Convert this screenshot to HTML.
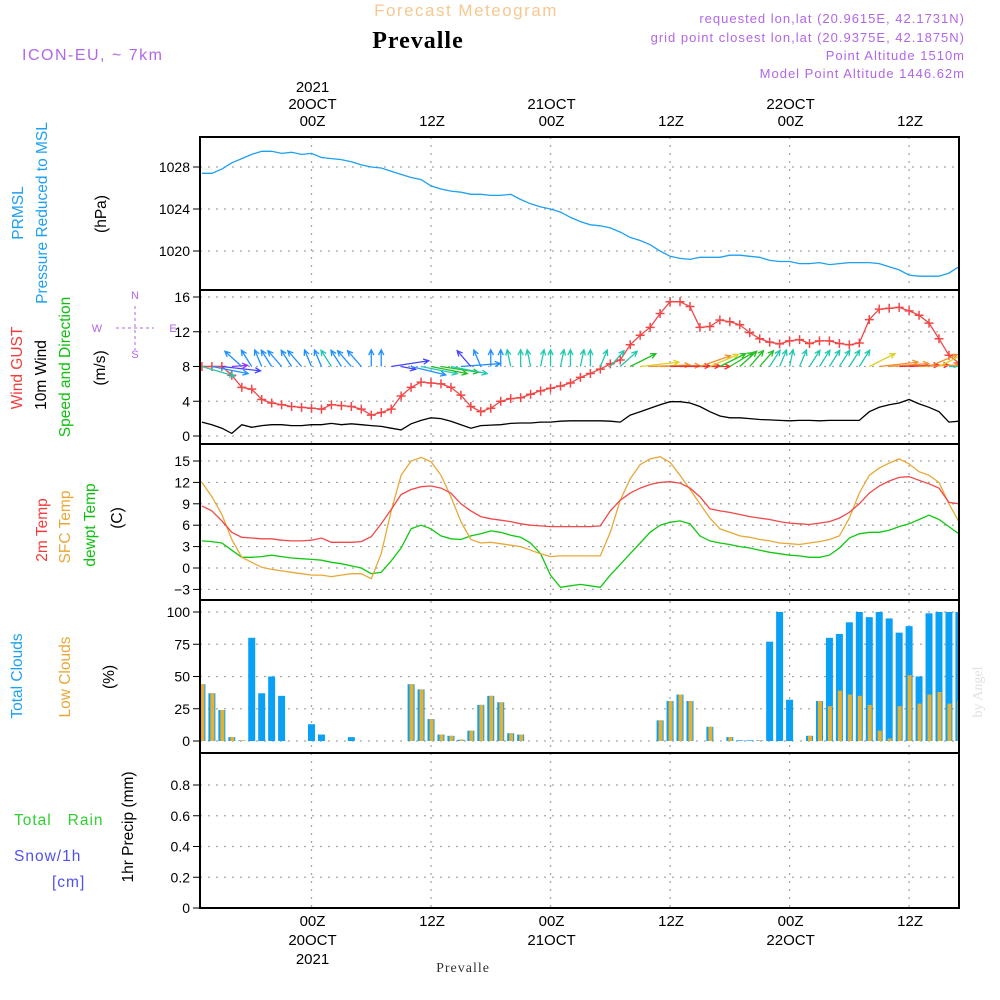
<!DOCTYPE html>
<html><head><meta charset="utf-8"><title>Forecast Meteogram Prevalle</title>
<style>
html,body{margin:0;padding:0;background:#fff;}
svg{display:block;font-family:"Liberation Sans",sans-serif;}
</style></head>
<body>
<svg id="chart" width="1000" height="1000" viewBox="0 0 1000 1000">
  <g>
    <text x="466" y="16" text-anchor="middle" font-size="17" fill="#f5c890" letter-spacing="1.5">Forecast Meteogram</text>
    <text x="418" y="48" text-anchor="middle" font-size="24" font-weight="bold" font-family="Liberation Serif,serif" fill="#000" letter-spacing="1">Prevalle</text>
    <text x="22" y="60" font-size="16" fill="#b266e8" letter-spacing="1.5">ICON-EU, ~ 7km</text>
    <g font-size="13" fill="#b266e8" text-anchor="end" letter-spacing="1">
      <text x="965" y="23">requested lon,lat (20.9615E, 42.1731N)</text>
      <text x="965" y="42">grid point closest lon,lat (20.9375E, 42.1875N)</text>
      <text x="965" y="60">Point Altitude 1510m</text>
      <text x="965" y="78">Model Point Altitude 1446.62m</text>
    </g>
  </g>
  <g id="grid"></g>
  <g id="series"></g>
  <g id="frame"></g>
  <g id="axes" font-size="14"></g>
  <g font-size="15.5">
    <text transform="translate(23,213) rotate(-90)" text-anchor="middle" fill="#1ea0f0">PRMSL</text>
    <text transform="translate(47,213) rotate(-90)" text-anchor="middle" fill="#1ea0f0">Pressure Reduced to MSL</text>
    <text transform="translate(106,214) rotate(-90)" text-anchor="middle" fill="#000">(hPa)</text>
    <text transform="translate(22,368) rotate(-90)" text-anchor="middle" fill="#f03c3c">Wind GUST</text>
    <text transform="translate(46,375) rotate(-90)" text-anchor="middle" fill="#000">10m Wind</text>
    <text transform="translate(70,367) rotate(-90)" text-anchor="middle" fill="#10c010">Speed and Direction</text>
    <text transform="translate(105,368) rotate(-90)" text-anchor="middle" fill="#000">(m/s)</text>
    <text transform="translate(47,530) rotate(-90)" text-anchor="middle" fill="#f03c3c">2m Temp</text>
    <text transform="translate(70,527) rotate(-90)" text-anchor="middle" fill="#e8a838">SFC Temp</text>
    <text transform="translate(95,525) rotate(-90)" text-anchor="middle" fill="#10c010">dewpt Temp</text>
    <text transform="translate(122,518) rotate(-90)" text-anchor="middle" fill="#000">(C)</text>
    <text transform="translate(22,676) rotate(-90)" text-anchor="middle" fill="#1ea0f0">Total Clouds</text>
    <text transform="translate(70,677) rotate(-90)" text-anchor="middle" fill="#e8a838">Low Clouds</text>
    <text transform="translate(114,677) rotate(-90)" text-anchor="middle" fill="#000">(%)</text>
    <text transform="translate(133,827) rotate(-90)" text-anchor="middle" fill="#000">1hr Precip (mm)</text>
    <text x="14" y="825" fill="#30d030" letter-spacing="1">Total&#160;&#160;&#160;Rain</text>
    <text x="14" y="861" fill="#5050f0" letter-spacing="1">Snow/1h</text>
    <text x="52" y="887" fill="#5050f0" letter-spacing="1">[cm]</text>
  </g>
  <g font-size="11" fill="#b266e8">
    <text x="135" y="299" text-anchor="middle">N</text>
    <text x="135" y="358" text-anchor="middle">S</text>
    <text x="97" y="332" text-anchor="middle">W</text>
    <text x="173" y="332" text-anchor="middle">E</text>
    <line x1="116" y1="328" x2="154" y2="328" stroke="#b266e8" stroke-dasharray="3,3"/>
    <line x1="135" y1="306" x2="135" y2="350" stroke="#b266e8" stroke-dasharray="3,3"/>
  </g>
  <text transform="translate(982,692) rotate(-90)" text-anchor="middle" font-size="14" font-family="Liberation Serif,serif" fill="#dde3dd">by Angel</text>
  <text x="463" y="972" text-anchor="middle" font-size="14" font-family="Liberation Serif,serif" fill="#333" letter-spacing="1">Prevalle</text>
</svg>
<script>
// ---------- data (hourly from 13Z 19OCT) ----------
const startHour = -11;
const pressure = [1027.4,1027.4,1027.8,1028.4,1028.8,1029.2,1029.5,1029.5,1029.3,1029.4,1029.2,1029.3,1028.9,1028.8,1028.7,1028.5,1028.2,1028.0,1027.9,1027.6,1027.3,1027.0,1026.8,1026.2,1025.9,1025.7,1025.6,1025.4,1025.4,1025.3,1025.3,1025.4,1024.9,1024.5,1024.2,1024.0,1023.7,1023.2,1022.8,1022.5,1022.4,1022.2,1021.8,1021.3,1021.0,1020.6,1020.0,1019.5,1019.3,1019.2,1019.4,1019.4,1019.4,1019.6,1019.6,1019.5,1019.4,1019.1,1019.0,1019.0,1018.8,1018.8,1018.9,1018.7,1018.8,1018.9,1018.9,1018.9,1018.8,1018.5,1018.2,1017.7,1017.6,1017.6,1017.6,1017.9,1018.5];
const gust = [8.0,8.0,8.0,7.0,5.6,5.4,4.2,3.8,3.6,3.4,3.3,3.2,3.1,3.6,3.5,3.4,3.1,2.4,2.7,3.1,4.6,5.6,6.2,6.1,6.0,5.6,4.7,3.4,2.8,3.2,4.0,4.3,4.4,4.8,5.2,5.5,5.75,6.1,6.75,7.2,7.7,8.3,8.75,10.5,11.6,12.5,14.1,15.45,15.45,14.9,12.5,12.6,13.35,13.15,12.8,11.9,11.2,10.8,10.6,10.95,11.1,10.65,10.95,10.95,10.65,10.5,10.7,13.4,14.6,14.7,14.8,14.4,13.9,13.0,11.2,9.3,8.4];
const windSpeed = [1.6,1.3,0.9,0.3,1.3,1.0,1.2,1.3,1.3,1.2,1.2,1.3,1.3,1.45,1.3,1.4,1.3,1.2,1.1,0.9,0.7,1.4,1.8,2.1,2.0,1.7,1.3,0.9,1.2,1.25,1.3,1.45,1.5,1.5,1.6,1.6,1.7,1.75,1.75,1.75,1.75,1.7,1.6,2.4,2.8,3.2,3.6,3.95,3.95,3.8,3.4,2.8,2.3,2.1,2.1,2.0,1.9,1.85,1.8,1.75,1.8,1.8,1.75,1.8,1.8,1.8,1.8,2.8,3.3,3.6,3.8,4.2,3.7,3.3,2.8,1.6,1.7];
const windToDir = [-35,-25,-15,10,115,105,100,105,110,105,110,100,100,105,105,110,110,90,90,20,-25,-30,-25,-25,-20,-25,10,110,100,90,90,95,90,95,85,90,85,90,85,90,80,70,65,50,15,5,3,2,2,0,40,45,50,55,65,70,70,75,80,85,80,75,75,75,75,75,75,50,15,10,5,5,5,45,50,0,0];
const temp2m = [8.7,8.0,6.6,5.0,4.3,4.2,4.1,4.1,3.9,3.8,3.8,3.9,4.2,3.6,3.6,3.6,3.7,4.4,6.2,8.2,10.3,11.0,11.4,11.5,11.2,10.5,9.0,8.0,7.2,6.9,6.7,6.5,6.2,6.0,5.9,5.8,5.8,5.8,5.8,5.8,5.9,8.0,9.5,10.5,11.2,11.7,12.0,12.1,11.9,11.2,10.0,8.3,8.0,7.8,7.5,7.2,7.0,6.8,6.5,6.3,6.2,6.1,6.3,6.5,7.0,7.8,9.0,10.5,11.5,12.2,12.7,12.8,12.3,11.8,11.2,9.2,9.0];
const tempSfc = [12.0,10.0,7.5,4.0,1.5,0.8,0.1,-0.2,-0.4,-0.6,-0.8,-1.0,-1.0,-1.2,-1.0,-0.8,-0.8,-1.5,2.0,8.0,13.0,15.0,15.5,14.9,13.0,10.0,6.5,4.0,3.5,3.6,3.4,3.2,3.0,2.5,2.0,1.6,1.7,1.7,1.7,1.7,1.7,5.0,9.5,12.5,14.5,15.3,15.6,14.8,13.0,11.0,9.0,7.0,5.5,5.0,4.5,4.3,4.0,3.8,3.5,3.4,3.3,3.5,3.7,4.0,4.5,7.0,10.5,13.0,14.0,14.7,15.3,14.6,13.5,13.0,12.0,9.0,6.5];
const dewpoint = [3.8,3.7,3.5,2.5,1.5,1.5,1.6,1.8,1.6,1.4,1.3,1.2,1.1,0.8,0.6,0.3,0,-0.8,-0.6,1.0,2.8,5.5,6.0,5.5,4.5,4.1,4.0,4.5,4.8,5.2,5.0,4.6,4.3,3.5,2.0,-1.0,-2.7,-2.5,-2.3,-2.5,-2.7,-1.0,0.5,2.0,3.5,5.0,6.0,6.4,6.6,6.2,4.5,3.8,3.5,3.3,3.0,2.8,2.5,2.2,2.0,1.8,1.7,1.5,1.5,1.8,2.8,4.2,4.8,5.0,5.0,5.3,5.8,6.2,6.8,7.4,6.8,5.8,4.8];
const totalClouds = [44,37,24,3,0.5,80,37,50,35,0,0,13,5,0,0,3,0,0,0,0,0,44,40,17,5,4,1,8,28,35,30,6,5,0,0,0,0,0,0,0,0,0,0,0,0,0,16,31,36,31,0,11,0,3,0.5,0.5,0.5,77,100,32,0,4,31,80,83,92,100,96,100,95,84,89,50,99,100,100,100];
const lowClouds = [44,37,24,3,0.5,0,0,0,0,0,0,0,0,0,0,0,0,0,0,0,0,44,40,17,5,4,1,8,28,35,30,6,5,0,0,0,0,0,0,0,0,0,0,0,0,0,16,31,36,31,0,11,0,3,0,0,0.5,0,0,0,0,4,31,27,39,36,35,28,8,2,27,51,29,36,38,29,31];
const precip = [];
const pressureTicks = [1020,1024,1028];
const windTicks = [0,4,8,12,16];
const tempTicks = [-3,0,3,6,9,12,15];
const cloudTicks = [0,25,50,75,100];
const precipTicks = [0,0.2,0.4,0.6,0.8];
const timeTickHours = [0,12,24,36,48,60];
const timeTickTop = [["2021","20OCT","00Z"],["","","12Z"],["","21OCT","00Z"],["","","12Z"],["","22OCT","00Z"],["","","12Z"]];
const timeTickBottom = [["00Z","20OCT","2021"],["12Z","",""],["00Z","21OCT",""],["12Z","",""],["00Z","22OCT",""],["12Z","",""]];

// ---------- scales ----------
const X0 = 200, X1 = 959;
function xs(h){ return 311.5 + 9.96*h; }
function hourOf(i){ return startHour + i; }
function lin(v0,y0,v1,y1){ return v => y0 + (v - v0)*(y1 - y0)/(v1 - v0); }
const yP = lin(1020,251,1028,167);
const yW = lin(0,436,16,297);
const yT = lin(0,568,15,461);
const yC = lin(0,741,100,612);
const yR = lin(0,908,0.8,785);
const panels = [[137,290],[290,444],[444,600],[600,753],[753,908]];

const NS = "http://www.w3.org/2000/svg";
function mk(tag, attrs, parent){ const e = document.createElementNS(NS, tag); for (const k in attrs) e.setAttribute(k, attrs[k]); parent.appendChild(e); return e; }
const grid = document.getElementById('grid');
const series = document.getElementById('series');
const frame = document.getElementById('frame');
const axes = document.getElementById('axes');

timeTickHours.forEach(h => {
  const l = mk('line', {x1:xs(h), x2:xs(h), y1:137, y2:908, stroke:'#a8a8a8', 'stroke-dasharray':'2,6', 'stroke-width':1.3}, grid);
  
  
});
function hgrid(ticks, sc, labelFmt){
  ticks.forEach(v => {
    const y = sc(v);
    const l = mk('line', {x1:X0, x2:X1, y1:y, y2:y, stroke:'#a8a8a8', 'stroke-dasharray':'2,6', 'stroke-width':1.3}, grid);
    
    
    const t = mk('line', {x1:193, x2:X0, y1:y, y2:y, stroke:'#000', 'stroke-width':1}, axes);
    
    
    const tx = mk('text', {x:190, y:y+5, 'text-anchor':'end', fill:'#000'}, axes);
    tx.textContent = labelFmt(v);
    
    
  });
}
hgrid(pressureTicks, yP, v => String(v));
hgrid(windTicks, yW, v => String(v));
hgrid(tempTicks, yT, v => v < 0 ? '\u2212' + Math.abs(v) : String(v));
hgrid(cloudTicks, yC, v => String(v));
hgrid(precipTicks, yR, v => v === 0 ? '0' : v.toFixed(1));

timeTickHours.forEach((h, i) => {
  [0,1,2].forEach(j => {
    const s = timeTickTop[i][j];
    if (s) {
      const t = mk('text', {x:xs(h)+1, y:92 + j*17, 'text-anchor':'middle', fill:'#000', 'font-size':15}, axes);
      t.textContent = s;
      
      
    }
    const b = timeTickBottom[i][j];
    if (b) {
      const t = mk('text', {x:xs(h)+1, y:926 + j*19, 'text-anchor':'middle', fill:'#000', 'font-size':15}, axes);
      t.textContent = b;
      
      
    }
  });
});

const defs = mk('defs', {}, series);
const cp = mk('clipPath', {id:'plotclip'}, defs);
mk('rect', {x:X0, y:137, width:X1-X0, height:771}, cp);
const sg = mk('g', {'clip-path':'url(#plotclip)'}, series);



function pathOf(arr, sc){ return arr.map((v,i) => (i?'L':'M') + xs(hourOf(i)).toFixed(1) + ',' + sc(v).toFixed(1)).join(' '); }
function line(arr, sc, color, name){
  const p = mk('path', {d:pathOf(arr, sc), fill:'none', stroke:color, 'stroke-width':1.3}, sg);
  
  
}

line(pressure, yP, '#1ea0f0', 'pressure-line');
line(windSpeed, yW, '#000', 'wind-speed-line');
line(gust, yW, '#f04848', 'gust-line');
gust.forEach((v,i) => {
  const x = xs(hourOf(i)), y = yW(v);
  const g = mk('path', {d:`M${x-4.5},${y}H${x+4.5}M${x},${y-4.5}V${y+4.5}`, stroke:'#f04848', 'stroke-width':1.5}, sg);
  
  
});
function speedColor(s){
  if (s < 0.5) return '#9933ff';
  if (s < 1.0) return '#4444ff';
  if (s < 1.45) return '#1e90ff';
  if (s < 1.9) return '#20c8b0';
  if (s < 2.6) return '#20c020';
  if (s < 3.2) return '#e0d020';
  if (s < 3.8) return '#f09030';
  return '#f03030';
}
windToDir.forEach((d,i) => {
  const x = xs(hourOf(i)), y = yW(8);
  const s = windSpeed[i];
  const L = s < 0.8 ? 16 : 40;
  const a = d*Math.PI/180;
  const dx = L*Math.cos(a), dy = -L*Math.sin(a)*0.42;
  const ex = x+dx, ey = y+dy;
  const ang = Math.atan2(dy, dx);
  const h = 6;
  const ax1 = ex - h*Math.cos(ang - 0.45), ay1 = ey - h*Math.sin(ang - 0.45);
  const ax2 = ex - h*Math.cos(ang + 0.45), ay2 = ey - h*Math.sin(ang + 0.45);
  const c = speedColor(s);
  const ar = mk('path', {d:`M${x},${y}L${ex},${ey}M${ax1},${ay1}L${ex},${ey}L${ax2},${ay2}`, stroke:c, 'stroke-width':1.3, fill:'none'}, sg);
  
  
});
line(dewpoint, yT, '#10c810', 'dewpoint-line');
line(tempSfc, yT, '#e8a838', 'sfc-temp-line');
line(temp2m, yT, '#f04848', 'temp-2m-line');
totalClouds.forEach((v,i) => {
  const x = xs(hourOf(i));
  if (v > 0) {
    const r = mk('rect', {x:x-3.5, y:yC(v), width:7, height:yC(0)-yC(v), fill:'#0aa0f5'}, sg);
    
    
  }
  const lv = lowClouds[i];
  if (lv > 0) {
    const r2 = mk('rect', {x:x-1.5, y:yC(lv), width:4, height:yC(0)-yC(lv), fill:'#e8b030'}, sg);
    
    
  }
});
precip.forEach((v,i) => {
  const x = xs(hourOf(i));
  const r = mk('rect', {x:x-3.5, y:yR(v), width:7, height:yR(0)-yR(v), fill:'#30d030'}, sg);
  
  
});

panels.forEach(([a,b]) => {
  const r = mk('rect', {x:X0, y:a, width:X1-X0, height:b-a, fill:'none', stroke:'#000', 'stroke-width':2}, frame);
  
  
});
const bl = mk('line', {x1:X0, x2:X1, y1:908, y2:908, stroke:'#000', 'stroke-width':2, 'stroke-dasharray':'6,2'}, frame);


</script>
</body></html>
